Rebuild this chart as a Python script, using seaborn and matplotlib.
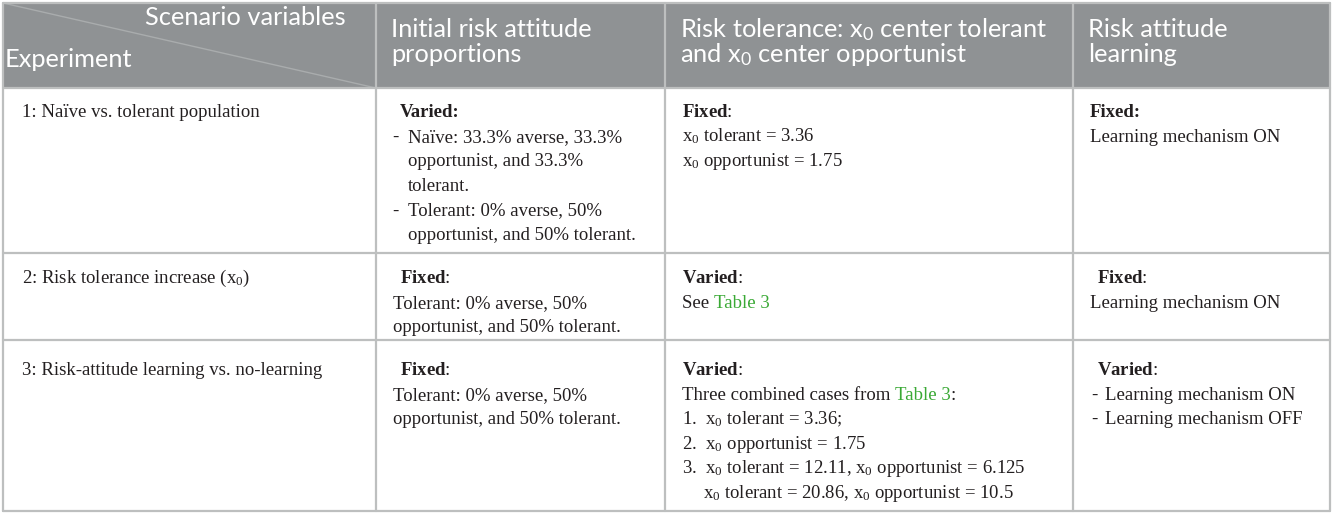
import matplotlib
matplotlib.use("Agg")
import matplotlib.pyplot as plt
import seaborn as sns

# ---------------- data ----------------
corner_top = "Scenario variables"
corner_bottom = "Experiment"
header_cols = [
    ["Initial risk attitude", "proportions"],
    ["Risk tolerance: x$_\\mathregular{0}$ center tolerant", "and x$_\\mathregular{0}$ center opportunist"],
    ["Risk attitude", "learning"],
]
experiments = [
    "1: Naïve vs. tolerant population",
    "2: Risk tolerance increase (x$_\\mathregular{0}$)",
    "3: Risk-attitude learning vs. no-learning",
]
X0 = "x$_\\mathregular{0}$"
FIXED = "$\\mathbf{Fixed}$:"
VARIED = "$\\mathbf{Varied}$:"
# each cell: list of lines; each line = (indent, same_line_as_previous, [(text, style), ...])
# style r=regular, b=bold, g=green link
cells = [
    [
        [(7, False, [("Varied:", "b")]),
         (-1, False, [("-", "r")]), (15, True, [("Naïve: 33.3% averse, 33.3%", "r")]),
         (15, False, [("opportunist, and 33.3%", "r")]),
         (15, False, [("tolerant.", "r")]),
         (-1, False, [("-", "r")]), (15, True, [("Tolerant: 0% averse, 50%", "r")]),
         (15, False, [("opportunist, and 50% tolerant.", "r")])],
        [(0, False, [(FIXED, "r")]),
         (0, False, [(X0 + " tolerant = 3.36", "r")]),
         (0, False, [(X0 + " opportunist = 1.75", "r")])],
        [(0, False, [("Fixed:", "b")]),
         (0, False, [("Learning mechanism ON", "r")])],
    ],
    [
        [(7, False, [(FIXED, "r")]),
         (0, False, [("Tolerant: 0% averse, 50%", "r")]),
         (0, False, [("opportunist, and 50% tolerant.", "r")])],
        [(0, False, [(VARIED, "r")]),
         (0, False, [("See ", "r"), ("Table 3", "g")])],
        [(7, False, [(FIXED, "r")]),
         (0, False, [("Learning mechanism ON", "r")])],
    ],
    [
        [(7, False, [(FIXED, "r")]),
         (0, False, [("Tolerant: 0% averse, 50%", "r")]),
         (0, False, [("opportunist, and 50% tolerant.", "r")])],
        [(0, False, [(VARIED, "r")]),
         (0, False, [("Three combined cases from ", "r"), ("Table 3", "g"), (":", "r")]),
         (0, False, [("1.  " + X0 + " tolerant = 3.36;", "r")]),
         (0, False, [("2.  " + X0 + " opportunist = 1.75", "r")]),
         (0, False, [("3.  " + X0 + " tolerant = 12.11, " + X0 + " opportunist = 6.125", "r")]),
         (21, False, [(X0 + " tolerant = 20.86, " + X0 + " opportunist = 10.5", "r")])],
        [(7, False, [(VARIED, "r")]),
         (1, False, [("-", "r")]), (15, True, [("Learning mechanism ON", "r")]),
         (1, False, [("-", "r")]), (15, True, [("Learning mechanism OFF", "r")])],
    ],
]

# ---------------- layout (pixels) ----------------
W, H = 1334, 515
col_x = [3, 376, 665, 1073, 1330]
row_y = [3, 88, 253, 340, 511]
header_bg = "#8f9294"
grid_col = "#bdbfbf"
text_col = "#231f20"
green = "#3aa935"
body_size = 13.5
head_size = 18.3
serif = ["Liberation Serif", "DejaVu Serif"]
sans = ["Lato", "DejaVu Sans"]
line_h = 24.6

sns.set_theme(style="white")
plt.rcParams["font.family"] = serif
plt.rcParams["mathtext.fontset"] = "custom"
plt.rcParams["mathtext.bf"] = "Liberation Serif:bold"
plt.rcParams["mathtext.rm"] = "Liberation Serif"
plt.rcParams["mathtext.it"] = "Liberation Serif:italic"

fig = plt.figure(figsize=(W / 100, H / 100), dpi=100)
ax = fig.add_axes([0, 0, 1, 1])
ax.set_xlim(0, W)
ax.set_ylim(H, 0)
ax.axis("off")

# header background
ax.fill_between([col_x[0], col_x[-1]], row_y[0], row_y[1], color=header_bg, lw=0, zorder=0)
# grid lines
for x in col_x:
    ax.plot([x, x], [row_y[0], row_y[-1]], color=grid_col, lw=1.6, zorder=2)
for y in row_y:
    ax.plot([col_x[0], col_x[-1]], [y, y], color=grid_col, lw=1.6, zorder=2)
# diagonal
ax.plot([col_x[0], col_x[1]], [row_y[0], row_y[1]], color="#a9acad", lw=1.0, zorder=1)

# header text
ax.text(346, 25, corner_top, ha="right", va="baseline", color="white",
        fontsize=head_size, family=sans)
ax.text(5, 67, corner_bottom, ha="left", va="baseline", color="white",
        fontsize=head_size, family=sans)
for ci, lines in enumerate(header_cols):
    for li, s in enumerate(lines):
        ax.text(col_x[ci + 1] + 15, 37 + li * 24.5, s, ha="left", va="baseline",
                color="white", fontsize=head_size, family=sans)

renderer = fig.canvas.get_renderer()


def seg_width(txt):
    t1 = ax.text(0, 0, "|" + txt + "|", fontsize=body_size, family=serif)
    t2 = ax.text(0, 0, "||", fontsize=body_size, family=serif)
    w = t1.get_window_extent(renderer).width - t2.get_window_extent(renderer).width
    t1.remove()
    t2.remove()
    return w


body_top = [117, 283, 375]
for ri in range(3):
    ax.text(col_x[0] + 19, body_top[ri], experiments[ri], ha="left", va="baseline",
            color=text_col, fontsize=body_size, family=serif)
    for ci in range(3):
        base_x = col_x[ci + 1] + 17
        y = body_top[ri]
        for indent, same_line, segs in cells[ri][ci]:
            x = base_x + indent
            if same_line:
                y -= line_h
            for txt, st in segs:
                color = green if st == "g" else text_col
                weight = "bold" if st == "b" else "normal"
                ax.text(x, y, txt, ha="left", va="baseline", color=color,
                        fontsize=body_size, family=serif, weight=weight)
                if len(segs) > 1:
                    x += seg_width(txt)
            y += line_h

fig.savefig("out.png", dpi=100, facecolor="white")
